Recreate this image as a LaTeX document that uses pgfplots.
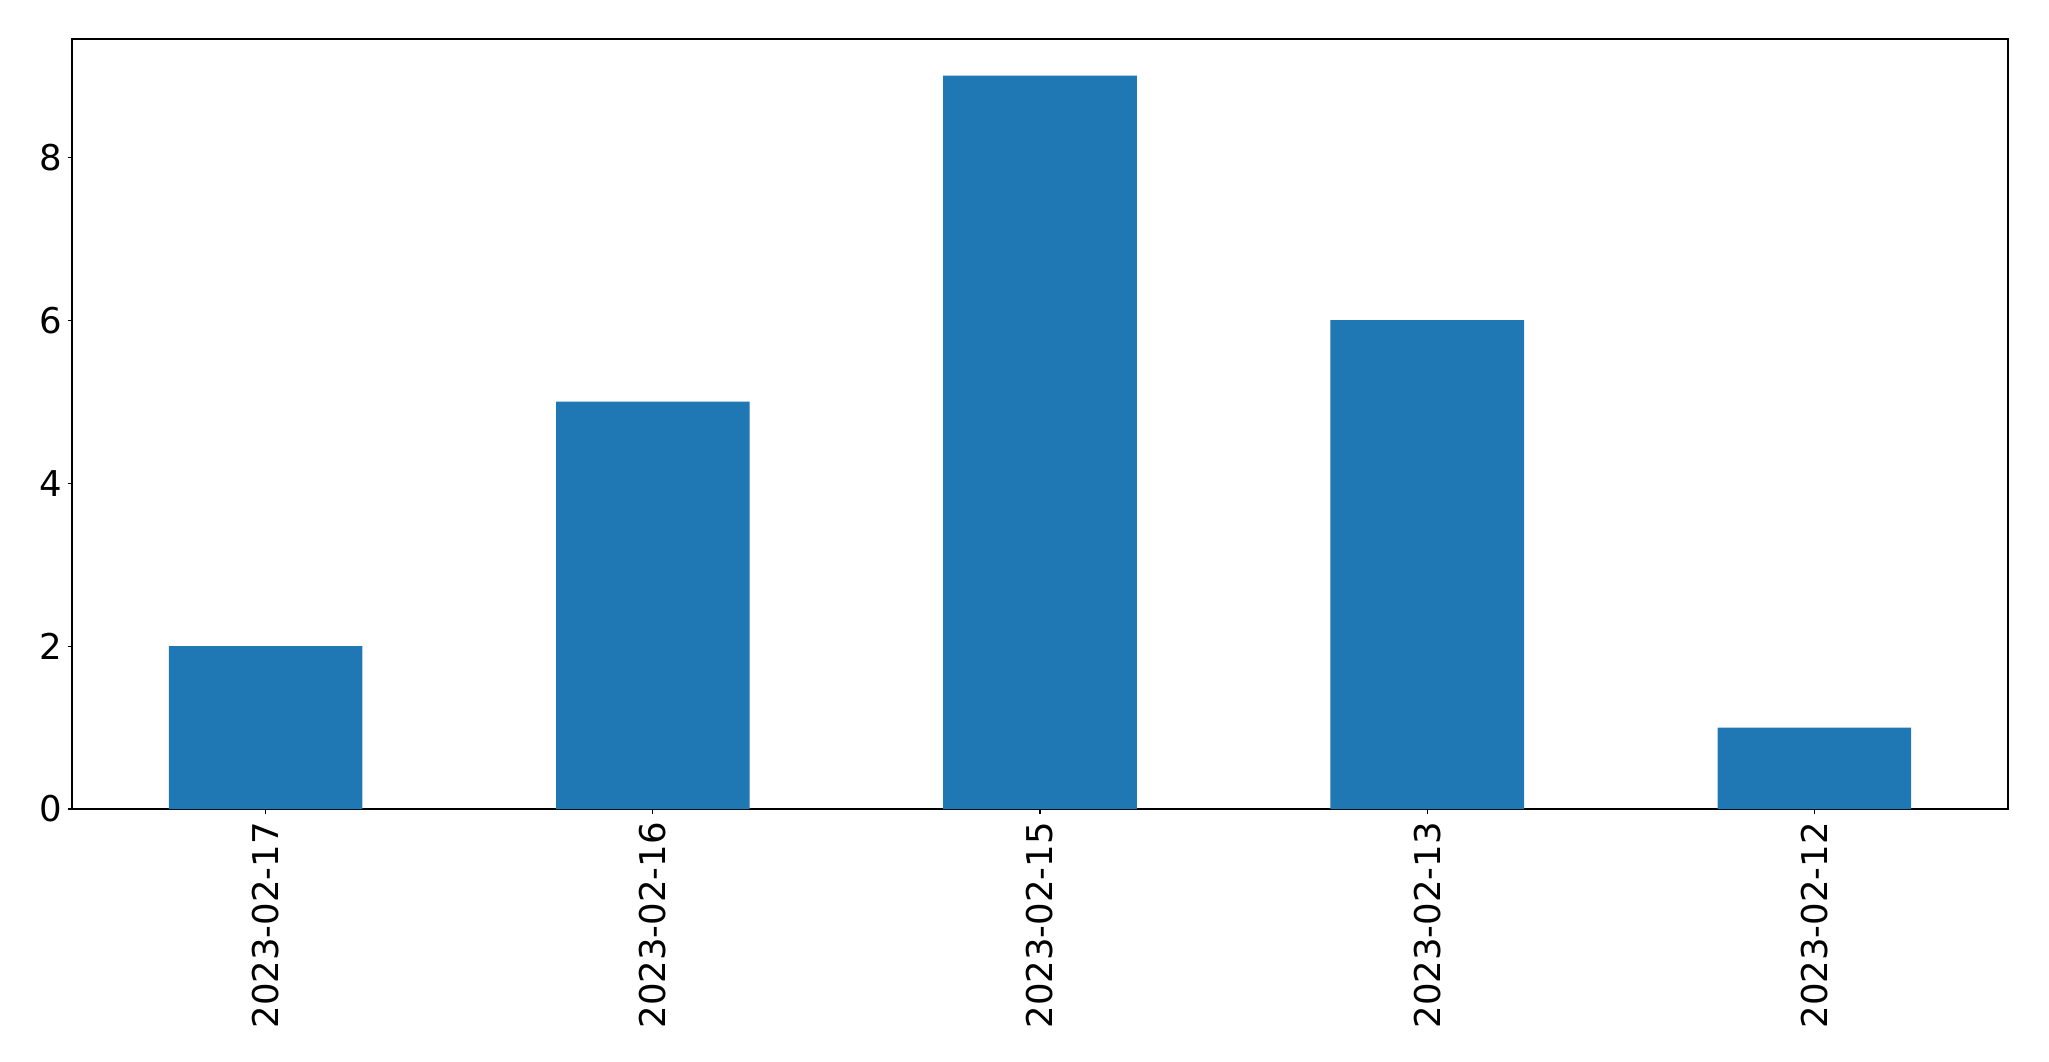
\documentclass[border=0pt]{standalone}
\usepackage{pgfplots}
\pgfplotsset{compat=1.18}
\usepackage{fontspec}
\setmainfont{DejaVu Sans}
\definecolor{mplblue}{HTML}{1F77B4}
\begin{document}
\begin{tikzpicture}
\begin{axis}[
  scale only axis,
  width=193.6mm, height=77mm,
  xmin=-0.5, xmax=4.5, ymin=0, ymax=9.45,
  xtick={0,1,2,3,4},
  xticklabels={2023-02-17,2023-02-16,2023-02-15,2023-02-13,2023-02-12},
  ytick={0,2,4,6,8},
  tick label style={font=\fontsize{10.1}{12}\selectfont},
  x tick label style={rotate=90, anchor=east, inner xsep=0.8mm},
  y tick label style={inner xsep=0.45mm},
  /pgf/number format/assume math mode=true,
  tick align=outside,
  xtick pos=bottom, ytick pos=left,
  major tick length=0.45mm,
  axis line style={line width=0.3pt},
  tick style={line width=0.3pt, black},
  ybar, bar width=0.5,
]
\addplot[fill=mplblue, draw=none] coordinates {(0,2) (1,5) (2,9) (3,6) (4,1)};
\end{axis}
\path ([shift={(-7.2mm,-25.2mm)}]current axis.south west) rectangle ([shift={(4.1mm,3.9mm)}]current axis.north east);
\end{tikzpicture}
\end{document}
